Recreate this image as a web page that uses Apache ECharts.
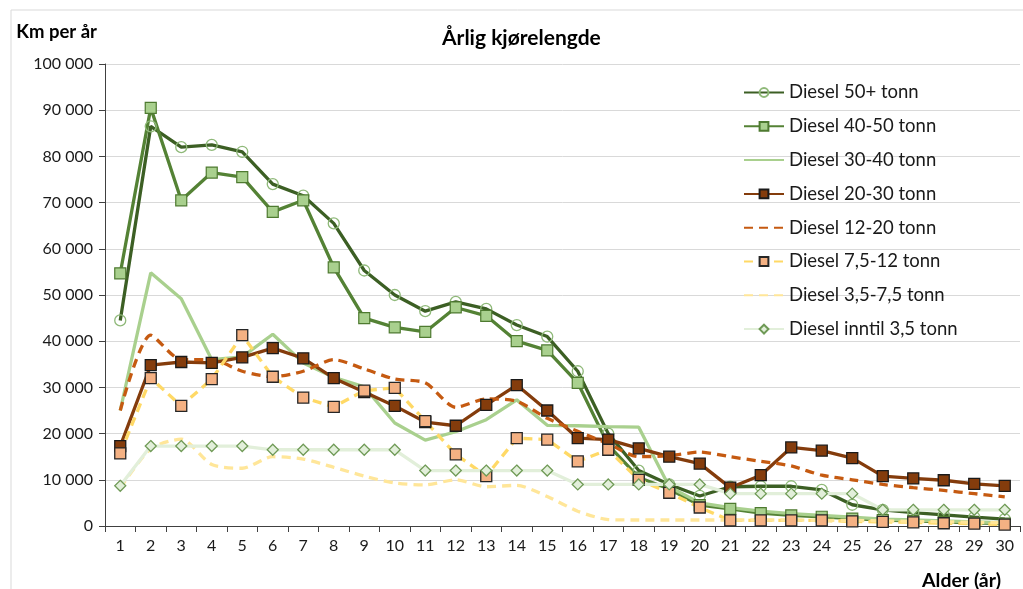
<!DOCTYPE html>
<html>
<head>
<meta charset="utf-8">
<script src="https://cdn.jsdelivr.net/npm/echarts@6/dist/echarts.min.js"></script>
<style>
html,body{margin:0;padding:0;background:#fff;}
#chart{width:1023px;height:589px;}
</style>
</head>
<body>
<div id="chart"></div>
<script>
const categories = ['1','2','3','4','5','6','7','8','9','10','11','12','13','14','15','16','17','18','19','20','21','22','23','24','25','26','27','28','29','30'];

const diesel50 = [44500,86500,82000,82500,81000,74000,71500,65500,55300,50000,46500,48500,47000,43500,41000,33500,20000,12000,9000,6500,8500,8600,8600,7800,4600,3500,2900,2400,1900,1500];
const diesel40_50 = [54700,90500,70500,76500,75500,68000,70500,56000,45000,43000,42000,47300,45500,40000,38000,31000,17500,10500,8000,4500,3700,2800,2300,2000,1600,1300,1100,900,700,500];
const diesel30_40 = [25000,54800,49200,36000,36600,41500,35300,32200,30100,22300,18600,20400,23000,27300,21800,21700,21500,21400,8500,5000,4000,3200,2700,2300,1900,1500,1300,1100,900,700];
const diesel20_30 = [17300,34800,35500,35300,36500,38500,36300,32000,29000,26000,22500,21700,26200,30500,25000,19000,18700,16800,15000,13500,8300,11000,17000,16300,14700,10800,10300,9900,9100,8700];
const diesel12_20 = [25000,41300,36000,36000,33500,32300,33500,36000,34000,31800,31000,25700,27500,27000,23300,20500,17800,15000,15200,16000,15000,14000,13000,11000,10000,9000,8300,7700,7000,6300];
const diesel7_12 = [15700,32000,26000,31800,41300,32300,27800,25800,29300,29900,22700,15500,10800,19000,18700,14000,16500,10000,7200,4000,1200,1200,1200,1200,1000,900,800,600,500,300];
const diesel3_7 = [8200,16700,18800,13300,12500,15000,14500,12700,10800,9300,8900,10000,8500,8800,6400,3200,1400,1300,1300,1300,1300,1300,1300,1200,1200,1100,1000,900,800,700];
const dieselInntil = [8700,17300,17300,17300,17300,16500,16500,16500,16500,16500,12000,12000,12000,12000,12000,9000,9000,9000,9000,9000,7000,7000,7000,7000,7000,3500,3500,3500,3500,3500];

const seriesNames = ['Diesel 50+ tonn','Diesel 40-50 tonn','Diesel 30-40 tonn','Diesel 20-30 tonn','Diesel 12-20 tonn','Diesel 7,5-12 tonn','Diesel 3,5-7,5 tonn','Diesel inntil 3,5 tonn'];

const yTicks = {min: 0, max: 100000, interval: 10000};

const FONT = 'Lato';
const fmt = v => String(v).replace(/\B(?=(\d{3})+(?!\d))/g, ' ');

const chart = echarts.init(document.getElementById('chart'));
const dash = [9, 6];
const LW = 3.3;

function mk(name, data, opt) {
  return Object.assign({
    name: name,
    type: 'line',
    data: data,
    showSymbol: true,
    symbolSize: 10,
    animation: false
  }, opt);
}

const noSymbol = new Set(['Diesel 30-40 tonn','Diesel 12-20 tonn','Diesel 3,5-7,5 tonn']);

const option = {
  backgroundColor: '#ffffff',
  animation: false,
  textStyle: {fontFamily: FONT},
  graphic: [{
    type: 'rect',
    shape: {x: 11, y: 10, width: 1040, height: 620},
    style: {fill: 'none', stroke: '#d9d9d9', lineWidth: 1},
    silent: true, z: -10
  }],
  title: [{
    text: 'Årlig kjørelengde',
    left: 437, top: 23,
    textStyle: {fontFamily: FONT, fontSize: 21, fontWeight: 'bold', color: '#000'}
  }, {
    text: 'Alder (år)',
    right: 17, top: 566,
    textStyle: {fontFamily: FONT, fontSize: 19.5, fontWeight: 'bold', color: '#000'}
  }],
  legend: {
    orient: 'vertical',
    left: 743, top: 83,
    padding: 0,
    itemWidth: 40, itemHeight: 11, itemGap: 14.8,
    textStyle: {fontFamily: FONT, fontSize: 18.5, color: '#1a1a1a'},
    data: seriesNames.map(n => noSymbol.has(n) ? {name: n, itemStyle: {opacity: 0}} : {name: n})
  },
  grid: {left: 105, right: 3, top: 64, bottom: 63, containLabel: false},
  xAxis: {
    type: 'category',
    data: categories,
    boundaryGap: true,
    axisLine: {lineStyle: {color: '#404040', width: 1}},
    axisTick: {show: true, length: 6, lineStyle: {color: '#404040'}},
    axisLabel: {fontFamily: FONT, fontSize: 16, color: '#1a1a1a', margin: 12, interval: 0}
  },
  yAxis: {
    type: 'value',
    min: yTicks.min, max: yTicks.max, interval: yTicks.interval,
    name: 'Km per år',
    nameLocation: 'end',
    nameGap: 22,
    nameTextStyle: {fontFamily: FONT, fontSize: 18.5, fontWeight: 'bold', color: '#000', align: 'right', padding: [0, 8, 0, 0]},
    axisLine: {show: true, lineStyle: {color: '#404040', width: 1}},
    axisTick: {show: true, length: 6, lineStyle: {color: '#404040'}},
    axisLabel: {fontFamily: FONT, fontSize: 16, color: '#1a1a1a', margin: 12, formatter: fmt},
    splitLine: {lineStyle: {color: '#d9d9d9', width: 1}}
  },
  series: [
    mk(seriesNames[0], diesel50, {
      symbol: 'circle', symbolSize: 11,
      lineStyle: {color: '#3c5f24', width: LW},
      itemStyle: {color: 'rgba(255,255,255,0)', borderColor: '#8fb979', borderWidth: 1.3}
    }),
    mk(seriesNames[1], diesel40_50, {
      symbol: 'rect', symbolSize: 11,
      lineStyle: {color: '#548235', width: LW},
      itemStyle: {color: '#a9d08e', borderColor: '#4e7a30', borderWidth: 1.2}
    }),
    mk(seriesNames[2], diesel30_40, {
      symbol: 'none',
      lineStyle: {color: '#a9d08e', width: LW},
      itemStyle: {color: '#a9d08e'}
    }),
    mk(seriesNames[3], diesel20_30, {
      symbol: 'rect', symbolSize: 11,
      lineStyle: {color: '#843c0c', width: LW},
      itemStyle: {color: '#843c0c', borderColor: '#1a1a1a', borderWidth: 1.3}
    }),
    mk(seriesNames[4], diesel12_20, {
      symbol: 'none', smooth: 0.25,
      lineStyle: {color: '#c55a11', width: LW, type: dash},
      itemStyle: {color: '#c55a11'}
    }),
    mk(seriesNames[5], diesel7_12, {
      symbol: 'rect', symbolSize: 11,
      lineStyle: {color: '#ffd966', width: LW, type: dash},
      itemStyle: {color: '#f4b183', borderColor: '#262626', borderWidth: 1.3}
    }),
    mk(seriesNames[6], diesel3_7, {
      symbol: 'none', smooth: 0.25,
      lineStyle: {color: '#ffe699', width: LW, type: dash},
      itemStyle: {color: '#ffe699'}
    }),
    mk(seriesNames[7], dieselInntil, {
      symbol: 'diamond', symbolSize: 11,
      lineStyle: {color: '#e2efda', width: LW},
      itemStyle: {color: '#e2efda', borderColor: '#6f9a56', borderWidth: 1.3}
    })
  ]
};
chart.setOption(option);
</script>
</body>
</html>
